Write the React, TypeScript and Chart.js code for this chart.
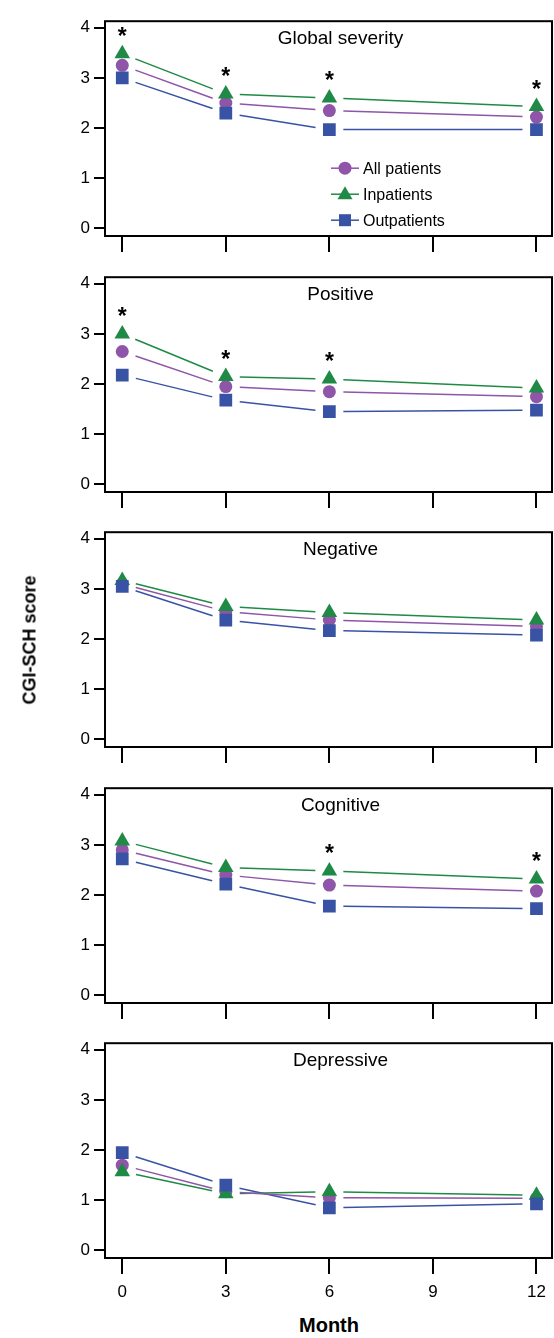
import { useEffect, useRef } from 'react';
import { Chart, registerables } from 'chart.js';

Chart.register(...registerables);

const months = [0, 3, 6, 12];
const panelTitles = ['Global severity', 'Positive', 'Negative', 'Cognitive', 'Depressive'];
const allPatients = [
  [3.25, 2.5, 2.35, 2.22],
  [2.65, 1.95, 1.85, 1.75],
  [3.1, 2.55, 2.38, 2.25],
  [2.9, 2.4, 2.2, 2.08],
  [1.7, 1.17, 1.05, 1.04],
];
const inpatients = [
  [3.48, 2.68, 2.6, 2.43],
  [3.0, 2.15, 2.1, 1.92],
  [3.17, 2.65, 2.53, 2.38],
  [3.08, 2.55, 2.48, 2.32],
  [1.57, 1.13, 1.17, 1.1],
];
const outpatients = [
  [3.0, 2.3, 1.97, 1.97],
  [2.18, 1.68, 1.45, 1.48],
  [3.05, 2.38, 2.17, 2.08],
  [2.72, 2.22, 1.78, 1.73],
  [1.95, 1.3, 0.85, 0.93],
];
// months with a significance asterisk, per panel
const starMonths = [[0, 3, 6, 12], [0, 3, 6], [], [6, 12], []];
const yTicks = [0, 1, 2, 3, 4];
const xTicks = [0, 3, 6, 9, 12];

const GREEN = '#1f8a45';
const PURPLE = '#8e55a8';
const BLUE = '#3953a4';
const FONT = '"Liberation Sans", Arial, sans-serif';

const PAD_TOP = 6;
const PLOT_H = 223;
const CANVAS_W = 561;

const Panel = ({ idx, top }: { idx: number; top: number }) => {
  const ref = useRef<HTMLCanvasElement | null>(null);
  const last = idx === 4;
  const xh = last ? 46 : 22;
  const height = PAD_TOP + PLOT_H + xh;

  useEffect(() => {
    if (!ref.current) return;
    const mk = (d: number[]) => months.map((m, i) => ({ x: m, y: d[i] }));
    const seriesDef = [
      { label: 'Outpatients', data: mk(outpatients[idx]), color: BLUE, style: 'rect', r: 9 },
      { label: 'Inpatients', data: mk(inpatients[idx]), color: GREEN, style: 'triangle', r: 9 },
      { label: 'All patients', data: mk(allPatients[idx]), color: PURPLE, style: 'circle', r: 6.5 },
    ];

    const overlay = {
      id: 'overlay',
      beforeDatasetsDraw(chart: any) {
        const { ctx, chartArea: a, scales } = chart;
        const xs = scales.x, ys = scales.y;
        ctx.save();
        ctx.lineWidth = 1.5;
        seriesDef.forEach((s) => {
          ctx.strokeStyle = s.color;
          for (let i = 0; i < s.data.length - 1; i++) {
            const x1 = xs.getPixelForValue(s.data[i].x), y1 = ys.getPixelForValue(s.data[i].y);
            const x2 = xs.getPixelForValue(s.data[i + 1].x), y2 = ys.getPixelForValue(s.data[i + 1].y);
            const len = Math.hypot(x2 - x1, y2 - y1);
            const g = 14 / len;
            ctx.beginPath();
            ctx.moveTo(x1 + (x2 - x1) * g, y1 + (y2 - y1) * g);
            ctx.lineTo(x2 - (x2 - x1) * g, y2 - (y2 - y1) * g);
            ctx.stroke();
          }
        });
        ctx.restore();
        ctx.save();
        ctx.strokeStyle = '#000';
        ctx.lineWidth = 2;
        ctx.strokeRect(a.left, a.top, a.right - a.left, a.bottom - a.top);
        ctx.fillStyle = '#000';
        ctx.font = `19px ${FONT}`;
        ctx.textAlign = 'center';
        ctx.textBaseline = 'top';
        ctx.fillText(panelTitles[idx], (a.left + a.right) / 2 + 12, a.top + 8);
        ctx.restore();
      },
      afterDatasetsDraw(chart: any) {
        const { ctx, chartArea: a, scales } = chart;
        ctx.save();
        ctx.fillStyle = '#000';
        ctx.font = `bold 23px ${FONT}`;
        ctx.textAlign = 'center';
        ctx.textBaseline = 'middle';
        starMonths[idx].forEach((m) => {
          const i = months.indexOf(m);
          ctx.fillText('*', scales.x.getPixelForValue(m), scales.y.getPixelForValue(inpatients[idx][i]) - 16);
        });
        if (idx === 0) {
          const items = [
            { label: 'All patients', color: PURPLE, style: 'circle' },
            { label: 'Inpatients', color: GREEN, style: 'triangle' },
            { label: 'Outpatients', color: BLUE, style: 'rect' },
          ];
          items.forEach((it, k) => {
            const y = a.top + 147 + k * 26;
            const x = a.left + 240;
            ctx.strokeStyle = it.color;
            ctx.fillStyle = it.color;
            ctx.lineWidth = 1.5;
            ctx.beginPath();
            ctx.moveTo(x - 14, y);
            ctx.lineTo(x + 14, y);
            ctx.stroke();
            ctx.beginPath();
            if (it.style === 'circle') ctx.arc(x, y, 6.5, 0, Math.PI * 2);
            else if (it.style === 'triangle') {
              ctx.moveTo(x, y - 8);
              ctx.lineTo(x + 7.5, y + 5);
              ctx.lineTo(x - 7.5, y + 5);
              ctx.closePath();
            } else ctx.rect(x - 6, y - 6, 12, 12);
            ctx.fill();
            ctx.fillStyle = '#000';
            ctx.font = `16px ${FONT}`;
            ctx.textAlign = 'left';
            ctx.fillText(it.label, x + 18, y + 1);
          });
        }
        ctx.restore();
      },
    };

    const chart = new Chart(ref.current, {
      type: 'scatter',
      data: {
        datasets: seriesDef.map((s) => ({
          label: s.label,
          data: s.data,
          showLine: false,
          pointStyle: s.style as any,
          pointRadius: s.r,
          pointBackgroundColor: s.color,
          pointBorderColor: s.color,
          pointBorderWidth: 0,
        })),
      },
      options: {
        animation: false,
        responsive: false,
        layout: { padding: { top: PAD_TOP, right: 2, left: 0, bottom: 0 } },
        plugins: { legend: { display: false }, tooltip: { enabled: false } },
        scales: {
          x: {
            type: 'linear',
            min: -0.5,
            max: 12.45,
            afterBuildTicks: (s: any) => { s.ticks = xTicks.map((v) => ({ value: v })); },
            afterFit: (s: any) => { s.height = xh; },
            border: { display: false },
            grid: { drawOnChartArea: false, drawTicks: true, tickLength: 16, color: '#000', lineWidth: 2 },
            ticks: {
              display: last,
              color: '#000',
              padding: 8,
              maxRotation: 0,
              font: { family: FONT, size: 17 },
            },
          },
          y: {
            min: -0.15,
            max: 4.13,
            afterBuildTicks: (s: any) => { s.ticks = yTicks.map((v) => ({ value: v })); },
            afterFit: (s: any) => { s.width = 105; },
            border: { display: false },
            grid: { drawOnChartArea: false, drawTicks: true, tickLength: 11, color: '#000', lineWidth: 2 },
            ticks: { color: '#000', padding: 4, font: { family: FONT, size: 17 } },
          },
        },
      },
      plugins: [overlay],
    });
    return () => chart.destroy();
  }, [idx]);

  return (
    <canvas
      ref={ref}
      width={CANVAS_W}
      height={height}
      style={{ position: 'absolute', left: 0, top: top - PAD_TOP, width: CANVAS_W, height }}
    />
  );
};

export default function App() {
  useEffect(() => {
    document.body.style.margin = '0';
    document.body.style.overflow = 'hidden';
  }, []);
  return (
    <div style={{ position: 'relative', width: 554, height: 1338, background: '#fff', fontFamily: FONT, overflow: 'hidden' }}>
      {panelTitles.map((_, i) => (
        <Panel key={i} idx={i} top={13 + i * 255.5} />
      ))}
      <div
        style={{
          position: 'absolute',
          left: 30,
          top: 640,
          transform: 'translate(-50%, -50%) rotate(-90deg)',
          fontWeight: 'bold',
          fontSize: 18,
          whiteSpace: 'nowrap',
        }}
      >
        CGI-SCH score
      </div>
      <div
        style={{
          position: 'absolute',
          left: 329,
          top: 1325,
          transform: 'translate(-50%, -50%)',
          fontWeight: 'bold',
          fontSize: 20,
        }}
      >
        Month
      </div>
    </div>
  );
}
